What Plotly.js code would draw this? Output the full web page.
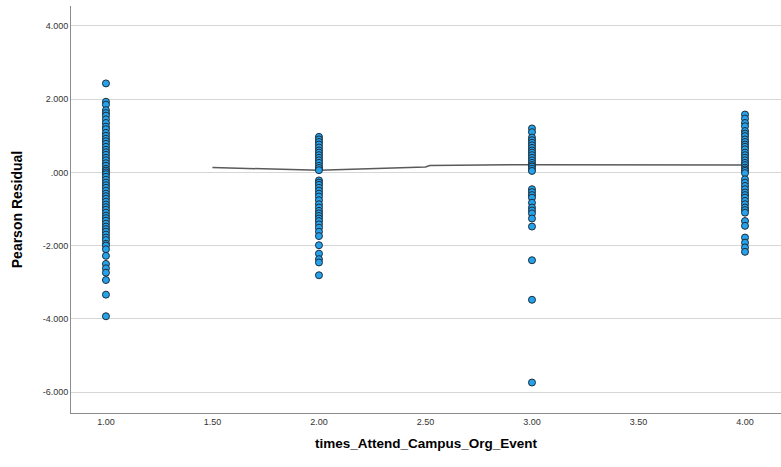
<!DOCTYPE html>
<html>
<head>
<meta charset="utf-8">
<script src="https://cdn.plot.ly/plotly-3.0.1.min.js"></script>
<style>html,body{margin:0;padding:0;background:#fff;}#chart{width:781px;height:467px;}</style>
</head>
<body>
<div id="chart"></div>
<script>
const group1 = [2.43, 1.93, 1.85, 1.70, 1.62, 1.55, 1.45, 1.35, 1.25, 1.18, 1.08, 1.00, 0.92, 0.85, 0.78, 0.70, 0.62, 0.55, 0.48, 0.40, 0.33, 0.25, 0.18, 0.10, 0.05, 0.00, -0.05, -0.12, -0.20, -0.28, -0.35, -0.42, -0.50, -0.58, -0.65, -0.72, -0.80, -0.88, -0.95, -1.02, -1.10, -1.18, -1.25, -1.32, -1.40, -1.48, -1.55, -1.62, -1.70, -1.78, -1.85, -1.95, -2.00, -2.10, -2.28, -2.50, -2.62, -2.74, -2.94, -3.34, -3.93];
const group2 = [0.97, 0.90, 0.83, 0.76, 0.68, 0.60, 0.54, 0.47, 0.40, 0.33, 0.26, 0.18, 0.12, 0.06, -0.22, -0.28, -0.34, -0.42, -0.50, -0.58, -0.66, -0.76, -0.87, -0.96, -1.05, -1.12, -1.19, -1.26, -1.33, -1.42, -1.51, -1.62, -1.74, -1.99, -2.22, -2.37, -2.46, -2.81];
const group3 = [1.20, 1.10, 0.95, 0.88, 0.81, 0.74, 0.67, 0.60, 0.54, 0.47, 0.40, 0.33, 0.26, 0.20, 0.16, 0.10, 0.04, -0.46, -0.54, -0.62, -0.69, -0.83, -0.96, -1.04, -1.12, -1.26, -1.48, -2.40, -3.48, -5.74];
const group4 = [1.58, 1.47, 1.35, 1.26, 1.13, 1.06, 0.99, 0.90, 0.83, 0.76, 0.70, 0.63, 0.54, 0.47, 0.40, 0.33, 0.26, 0.20, 0.13, 0.08, 0.04, -0.02, -0.19, -0.28, -0.37, -0.46, -0.55, -0.62, -0.69, -0.78, -0.87, -0.96, -1.03, -1.10, -1.33, -1.46, -1.78, -1.92, -2.05, -2.17];
const groupX = [1, 2, 3, 4];

const fitX = [1.5, 2.0, 2.5, 2.52, 3.0, 3.5, 4.0];
const fitY = [0.13, 0.06, 0.15, 0.19, 0.21, 0.21, 0.20];

const yTickVals = [4, 2, 0, -2, -4, -6];
const yTickText = ["4.000", "2.000", ".000", "-2.000", "-4.000", "-6.000"];
const xTickVals = [1, 1.5, 2, 2.5, 3, 3.5, 4];
const xTickText = ["1.00", "1.50", "2.00", "2.50", "3.00", "3.50", "4.00"];

const groups = [group1, group2, group3, group4];
const px = [], py = [];
groups.forEach((g, i) => g.forEach(v => { px.push(groupX[i]); py.push(v); }));

const traces = [
  {
    x: fitX, y: fitY, type: 'scatter', mode: 'lines',
    line: {color: '#5a5a5a', width: 1.5}, hoverinfo: 'skip', showlegend: false
  },
  {
    x: px, y: py, type: 'scatter', mode: 'markers',
    marker: {size: 7, color: '#26a2ec', line: {color: '#1c2d3a', width: 1}},
    showlegend: false
  }
];

const font = 'Arial, "Liberation Sans", sans-serif';
const layout = {
  width: 781, height: 467,
  margin: {l: 71, r: 0, t: 6, b: 54},
  paper_bgcolor: '#ffffff', plot_bgcolor: '#ffffff',
  showlegend: false,
  xaxis: {
    range: [0.836, 4.169],
    tickvals: xTickVals, ticktext: xTickText,
    showgrid: false, zeroline: false,
    showline: true, linecolor: '#8c8c8c', linewidth: 1,
    ticks: '', tickfont: {family: font, size: 9, color: '#333'},
    title: {text: 'times_Attend_Campus_Org_Event', font: {family: font, size: 13.5, color: '#000', weight: 'bold'}, standoff: 12}
  },
  yaxis: {
    range: [-6.573, 4.545],
    tickvals: yTickVals, ticktext: yTickText,
    showgrid: true, gridcolor: '#d6d6d6', gridwidth: 1,
    zeroline: false,
    showline: true, linecolor: '#8c8c8c', linewidth: 1,
    ticks: '', tickfont: {family: font, size: 9, color: '#333'},
    title: {text: 'Pearson Residual', font: {family: font, size: 14, color: '#000', weight: 'bold'}, standoff: 16}
  }
};

Plotly.newPlot('chart', traces, layout, {staticPlot: true, displayModeBar: false});
</script>
</body>
</html>
